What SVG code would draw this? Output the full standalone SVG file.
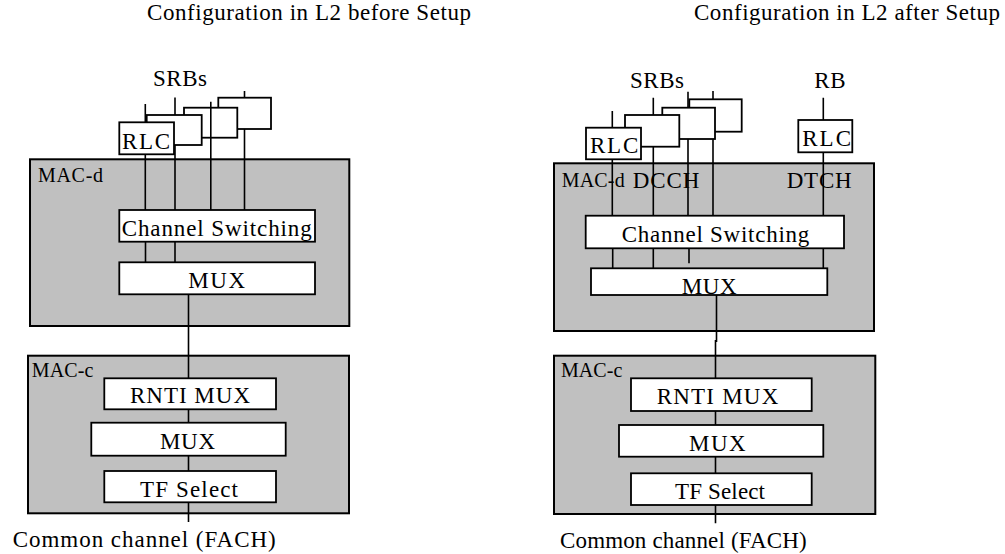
<svg xmlns="http://www.w3.org/2000/svg" width="1005" height="554" viewBox="0 0 1005 554" font-family="'Liberation Serif', 'Times New Roman', serif">
<style>
text{font-family:"Liberation Serif","Times New Roman",serif;font-size:23px;fill:#000}
.lbl{font-size:20px}
.mac{fill:#c0c0c0;stroke:#000;stroke-width:2}
.box{fill:#fff;stroke:#000;stroke-width:1.8}
.ln{stroke:#000;stroke-width:1.6;fill:none}
</style>
<rect width="1005" height="554" fill="#fff"/>
<text x="147" y="20" textLength="324" lengthAdjust="spacing">Configuration in L2 before Setup</text>
<text x="694" y="20" textLength="306" lengthAdjust="spacing">Configuration in L2 after Setup</text>

<g id="left-macd"><rect class="mac" x="30" y="159.3" width="319.3" height="166.7"/><text class="lbl" x="38" y="182" textLength="65" lengthAdjust="spacing">MAC-d</text></g>
<g id="left-macc"><rect class="mac" x="28" y="355.7" width="321" height="157.6"/><text class="lbl" x="31.7" y="377.3" textLength="61.7" lengthAdjust="spacing">MAC-c</text></g>
<g id="right-macd"><rect class="mac" x="554" y="163.3" width="320" height="167.7"/>
<text class="lbl" x="561.7" y="186.7" textLength="63" lengthAdjust="spacing">MAC-d</text>
<text x="632.7" y="188.3" textLength="66.7" lengthAdjust="spacing">DCCH</text>
<text x="786.7" y="188.3" textLength="65" lengthAdjust="spacing">DTCH</text></g>
<g id="right-macc"><rect class="mac" x="554" y="355.7" width="321.3" height="158.3"/><text class="lbl" x="561" y="377.3" textLength="61.3" lengthAdjust="spacing">MAC-c</text></g>

<text id="left-srbs" x="153" y="86" textLength="54" lengthAdjust="spacing">SRBs</text>
<text id="right-srbs" x="630" y="87.7" textLength="54" lengthAdjust="spacing">SRBs</text>
<text id="right-rb" x="814.3" y="87.7" textLength="31.4" lengthAdjust="spacing">RB</text>

<g id="connectors">
<path class="ln" d="M145.3 104V210M175 97.5V210M244.5 91V210M145.5 241.7V262.3M175 241.7V262.3M188.5 294V522"/>
<path class="ln" d="M612.3 111V215.7M653.3 97.7V215.7M688 91.7V215.7M713 91V215.7M823.3 97.7V215.7M612.7 248.3V268.3M653.3 248.3V268.3M689 248.3V263.3M823.3 248.3V268.3M716.5 295V342M715.5 340V523.3"/>
</g>

<g id="left-rlc4"><rect class="box" x="218.3" y="97.7" width="52.7" height="31.3"/></g>
<g id="left-rlc3"><rect class="box" x="184" y="107.7" width="53.3" height="30"/></g>
<g id="connectors-front"><path class="ln" d="M210.8 101.7V210"/></g>
<g id="left-rlc2"><rect class="box" x="146.7" y="115" width="55" height="30"/></g>
<g id="left-rlc1"><rect class="box" x="119.3" y="122.3" width="54.7" height="32"/><text x="122" y="149" textLength="48" lengthAdjust="spacing">RLC</text></g>
<g id="left-cs"><rect class="box" x="119.3" y="210" width="195.7" height="31.7"/><text x="121.7" y="235.7" textLength="190" lengthAdjust="spacing">Channel Switching</text></g>
<g id="left-mux"><rect class="box" x="119.3" y="262.3" width="195.7" height="32"/><text x="188.3" y="288.3" textLength="56.7" lengthAdjust="spacing">MUX</text></g>
<g id="left-rnti"><rect class="box" x="104.3" y="378.3" width="171.7" height="31"/><text x="130" y="403.3" textLength="120" lengthAdjust="spacing">RNTI MUX</text></g>
<g id="left-mux2"><rect class="box" x="91.3" y="422.7" width="194.4" height="33"/><text x="160" y="449.3" textLength="55" lengthAdjust="spacing">MUX</text></g>
<g id="left-tf"><rect class="box" x="104.3" y="471" width="171.7" height="31.3"/><text x="140" y="497.3" textLength="98" lengthAdjust="spacing">TF Select</text></g>
<text id="left-fach" x="12.7" y="546.7" textLength="263" lengthAdjust="spacing">Common channel (FACH)</text>

<g id="right-rlc4"><rect class="box" x="689.3" y="99.3" width="52.4" height="32.4"/></g>
<g id="right-rlc3"><rect class="box" x="662.3" y="107.7" width="52.7" height="31.3"/></g>
<g id="right-rlc2"><rect class="box" x="625" y="115" width="54.3" height="31.7"/></g>
<g id="right-rlc1"><rect class="box" x="586" y="127.7" width="55" height="31.6"/><text x="590" y="153.3" textLength="48.3" lengthAdjust="spacing">RLC</text></g>
<g id="right-rlcrb"><rect class="box" x="798.3" y="120" width="54" height="32.3"/><text x="802.3" y="146" textLength="48.7" lengthAdjust="spacing">RLC</text></g>
<g id="right-cs"><rect class="box" x="585.7" y="215.7" width="258.3" height="32.6"/><text x="621.7" y="241.7" textLength="187.6" lengthAdjust="spacing">Channel Switching</text></g>
<g id="right-mux"><rect class="box" x="591" y="268.3" width="236.3" height="26.7"/><text x="681.7" y="293.5" textLength="55" lengthAdjust="spacing">MUX</text></g>
<g id="right-rnti"><rect class="box" x="631" y="378.3" width="180.7" height="32.7"/><text x="656.7" y="404" textLength="121.6" lengthAdjust="spacing">RNTI MUX</text></g>
<g id="right-mux2"><rect class="box" x="619" y="425" width="204.3" height="31.7"/><text x="689" y="451" textLength="56.7" lengthAdjust="spacing">MUX</text></g>
<g id="right-tf"><rect class="box" x="631" y="473.3" width="180.7" height="31.7"/><text x="675" y="499" textLength="90" lengthAdjust="spacing">TF Select</text></g>
<text id="right-fach" x="560" y="548.3" textLength="246.7" lengthAdjust="spacing">Common channel (FACH)</text>
</svg>
